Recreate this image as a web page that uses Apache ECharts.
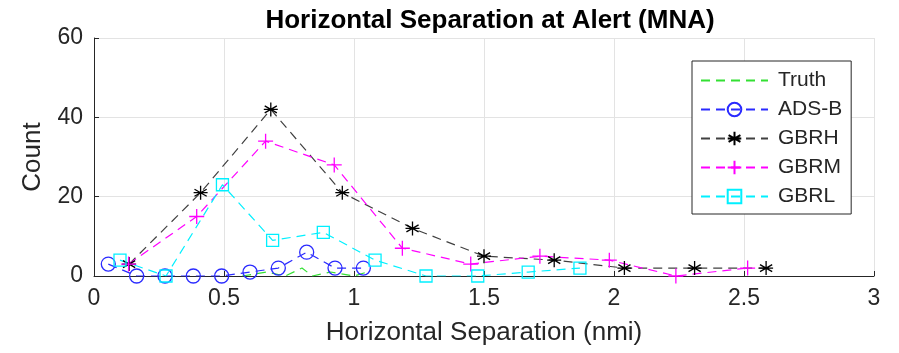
<!DOCTYPE html>
<html>
<head>
<meta charset="utf-8">
<script src="https://cdn.jsdelivr.net/npm/echarts@6/dist/echarts.min.js"></script>
<style>
html,body{margin:0;padding:0;background:#fff;}
#c{width:899px;height:353px;}
</style>
</head>
<body>
<div id="c"></div>
<script>
var xTicks = [0, 0.5, 1, 1.5, 2, 2.5, 3];
var yTicks = [0, 20, 40, 60];

var truthX = [0.57, 0.665, 0.735, 0.8, 0.84, 0.91, 1.0, 1.05];
var truthY = [0, 1, 0, 2, 0, 1, 0, 1];

var adsbX = [0.055, 0.164, 0.273, 0.382, 0.491, 0.6, 0.709, 0.818, 0.927, 1.036];
var adsbY = [3, 0, 0, 0, 0, 1, 2, 6, 2, 2];

var gbrhX = [0.135, 0.41, 0.68, 0.955, 1.225, 1.5, 1.77, 2.04, 2.31, 2.585];
var gbrhY = [3, 21, 42, 21, 12, 5, 4, 2, 2, 2];

var gbrmX = [0.133, 0.395, 0.66, 0.924, 1.186, 1.449, 1.715, 1.982, 2.238, 2.514];
var gbrmY = [3, 15, 34, 28, 7, 3, 5, 4, 0, 2];

var gbrlX = [0.1, 0.277, 0.494, 0.687, 0.882, 1.081, 1.277, 1.476, 1.67, 1.869];
var gbrlY = [4, 0, 23, 9, 11, 4, 0, 0, 1, 2];

function pairs(xs, ys) { return xs.map(function (x, i) { return [x, ys[i]]; }); }

var FONT = '"Liberation Sans", Arial, Helvetica, sans-serif';
var TXT = '#262626';
var dash = [9, 6];
var STAR = 'path://M0,-1L0,1M-0.87,-0.5L0.87,0.5M-0.87,0.5L0.87,-0.5M-1,0L1,0';
var PLUS = 'path://M-1,0L1,0M0,-1L0,1';

function mk(name, xs, ys, color, symbol, size, lineColor) {
  return {
    name: name,
    type: 'line',
    data: pairs(xs, ys),
    symbol: symbol,
    symbolSize: size,
    showSymbol: size > 0,
    color: color,
    lineStyle: { color: lineColor || color, width: 1.2, type: dash },
    itemStyle: { color: 'rgba(0,0,0,0)', borderColor: color, borderWidth: 1.3 },
    emphasis: { disabled: true },
    animation: false,
    z: 3
  };
}

var chart = echarts.init(document.getElementById('c'), null, { renderer: 'canvas' });
chart.setOption({
  backgroundColor: '#fff',
  animation: false,
  textStyle: { fontFamily: FONT },
  title: {
    text: 'Horizontal Separation at Alert (MNA)',
    left: 485,
    textAlign: 'center',
    top: 3,
    textStyle: { fontFamily: FONT, fontWeight: 'bold', fontSize: 26, color: '#000' }
  },
  grid: { left: 94, right: 25, top: 38, bottom: 77, show: false },
  xAxis: {
    type: 'value', min: 0, max: 3, interval: 0.5,
    name: 'Horizontal Separation (nmi)', nameLocation: 'middle', nameGap: 44,
    nameTextStyle: { fontFamily: FONT, fontSize: 26, color: TXT },
    axisLine: { show: true, onZero: false, lineStyle: { color: TXT, width: 1 } },
    axisTick: { show: true, inside: true, length: 5, lineStyle: { color: TXT } },
    axisLabel: { fontFamily: FONT, fontSize: 23, color: TXT, margin: 11,
      formatter: function (v) { return xTicks.indexOf(v) >= 0 ? String(v) : ''; } },
    splitLine: { show: true, lineStyle: { color: '#e3e3e3', width: 1 } }
  },
  yAxis: {
    type: 'value', min: 0, max: 60, interval: 20,
    name: 'Count', nameLocation: 'middle', nameGap: 48, nameRotate: 90,
    nameTextStyle: { fontFamily: FONT, fontSize: 26, color: TXT },
    axisLine: { show: true, onZero: false, lineStyle: { color: TXT, width: 1 } },
    axisTick: { show: true, inside: true, length: 5, lineStyle: { color: TXT } },
    axisLabel: { fontFamily: FONT, fontSize: 23, color: TXT, margin: 11,
      formatter: function (v) { return yTicks.indexOf(v) >= 0 ? String(v) : ''; } },
    splitLine: { show: true, lineStyle: { color: '#e3e3e3', width: 1 } }
  },
  legend: {
    orient: 'vertical',
    left: 692, top: 61,
    itemWidth: 67, itemHeight: 17, itemGap: 8,
    padding: [9, 9, 7, 8],
    borderColor: TXT, borderWidth: 1, backgroundColor: '#fff',
    textStyle: { fontFamily: FONT, fontSize: 21, color: TXT, padding: [0, 0, 0, 5] },
    data: [
      { name: 'Truth', itemStyle: { color: 'rgba(0,0,0,0)', borderColor: 'rgba(0,0,0,0)', borderWidth: 0 } },
      'ADS-B', 'GBRH', 'GBRM', 'GBRL'
    ]
  },
  series: [
    mk('Truth', truthX, truthY, '#33e033', 'circle', 0),
    mk('ADS-B', adsbX, adsbY, '#2a2aff', 'circle', 14),
    mk('GBRH', gbrhX, gbrhY, '#000000', STAR, 14, '#404040'),
    mk('GBRM', gbrmX, gbrmY, '#ff00ff', PLUS, 15),
    mk('GBRL', gbrlX, gbrlY, '#00f0ff', 'rect', 12)
  ]
});
</script>
</body>
</html>
